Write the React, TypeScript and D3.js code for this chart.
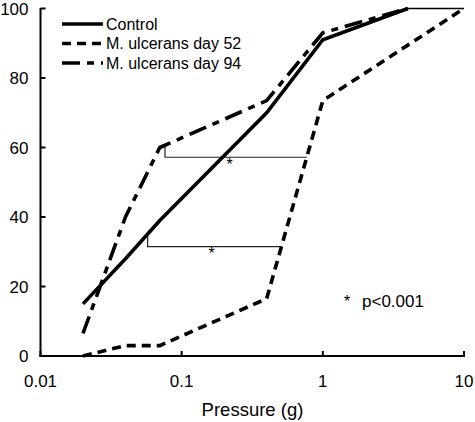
import React from "react";
import * as d3 from "d3";

const pressures = [0.02, 0.04, 0.07, 0.4, 1, 4];
const controlValues = [15, 28, 39, 70, 91, 100];
const day94Values = [6.5, 40, 60, 73.5, 93, 100];
const day52Pressures = [0.02, 0.04, 0.07, 0.4, 1, 10];
const day52Values = [0, 3, 3, 16.5, 73.5, 100];
const plateauPressures = [4, 10];
const plateauValue = 100;

const xTicks = [0.01, 0.1, 1, 10];
const xTickLabels = ["0.01", "0.1", "1", "10"];
const yTicks = [0, 20, 40, 60, 80, 100];

const seriesNames = ["Control", "M. ulcerans day 52", "M. ulcerans day 94"];

// brackets: [left pressure, right pressure, level, top of left riser]
const brackets = [
  [0.0762, 0.77, 57.2, 60.7],
  [0.0574, 0.511, 31.5, 34.8],
];
const bracketStars = [
  [0.219, 57.2],
  [0.163, 31.5],
];
const pValueText = "p<0.001";
const xTitle = "Pressure (g)";

const W = 475;
const H = 422;
const FONT = "'Liberation Sans', Arial, Helvetica, sans-serif";

export default function App() {
  const x = d3.scaleLog().domain([0.01, 10]).range([40.5, 464]);
  const y = d3.scaleLinear().domain([0, 100]).range([356, 8.5]);

  const line = d3
    .line<[number, number]>()
    .x((d) => x(d[0]))
    .y((d) => y(d[1]));

  const control = pressures.map((p, i) => [p, controlValues[i]] as [number, number]);
  const day94 = pressures.map((p, i) => [p, day94Values[i]] as [number, number]);
  const day52 = day52Pressures.map((p, i) => [p, day52Values[i]] as [number, number]);
  const plateau = plateauPressures.map((p) => [p, plateauValue] as [number, number]);

  const styles = [
    { dash: "none" },
    { dash: "9,6" },
    { dash: "18,7,7,7" },
  ];
  const seriesData = [control, day52, day94];

  const x0 = x(0.01);
  const y0 = y(0);

  return (
    <svg
      width={W}
      height={H}
      style={{ position: "absolute", left: 0, top: 0, display: "block", background: "#fff" }}
      fontFamily={FONT}
    >
      <rect x={0} y={0} width={W} height={H} fill="#fff" />
      {/* axes */}
      <line x1={x0} x2={x0} y1={y(100) - 0.5} y2={y0 + 1} stroke="#000" strokeWidth={2} />
      <line x1={x0 - 1} x2={x(10) + 1} y1={y0} y2={y0} stroke="#000" strokeWidth={2} />
      {yTicks.map((t) => (
        <g key={"y" + t}>
          <line x1={x0} x2={x0 + 5} y1={y(t)} y2={y(t)} stroke="#000" strokeWidth={2} />
          <text x={28.5} y={y(t)} dy="0.36em" textAnchor="end" fontSize={17}>
            {t}
          </text>
        </g>
      ))}
      {xTicks.map((t, i) => (
        <g key={"x" + t}>
          <line x1={x(t)} x2={x(t)} y1={y0} y2={y0 - 5} stroke="#000" strokeWidth={2} />
          <text x={x(t)} y={387} textAnchor="middle" fontSize={17}>
            {xTickLabels[i]}
          </text>
        </g>
      ))}
      <text x={252.5} y={416} textAnchor="middle" fontSize={18.5}>
        {xTitle}
      </text>

      {/* brackets */}
      {brackets.map((b, i) => (
        <path
          key={"b" + i}
          d={`M${x(b[0])},${y(b[3])}V${y(b[2])}H${x(b[1])}`}
          fill="none"
          stroke="#222"
          strokeWidth={1.2}
        />
      ))}
      {bracketStars.map((s, i) => (
        <text key={"s" + i} x={x(s[0])} y={y(s[1]) + 12.5} textAnchor="middle" fontSize={16}>
          *
        </text>
      ))}

      {/* plateau */}
      <path d={line(plateau) || ""} fill="none" stroke="#000" strokeWidth={1.3} />

      {/* series */}
      {seriesData.map((d, i) => (
        <path
          key={"l" + i}
          d={line(d) || ""}
          fill="none"
          stroke="#000"
          strokeWidth={3.6}
          strokeDasharray={styles[i].dash}
          strokeLinejoin="miter"
        />
      ))}

      {/* legend */}
      {seriesNames.map((n, i) => {
        const ly = 24 + i * 19.5;
        return (
          <g key={"lg" + i}>
            <line
              x1={62}
              x2={103}
              y1={ly}
              y2={ly}
              stroke="#000"
              strokeWidth={3.6}
              strokeDasharray={styles[i].dash}
            />
            <text x={106} y={ly} dy="0.36em" fontSize={16}>
              {n}
            </text>
          </g>
        );
      })}

      {/* p value note */}
      <text x={347} y={307} textAnchor="middle" fontSize={16}>
        *
      </text>
      <text x={362} y={307} fontSize={17}>
        {pValueText}
      </text>
    </svg>
  );
}
